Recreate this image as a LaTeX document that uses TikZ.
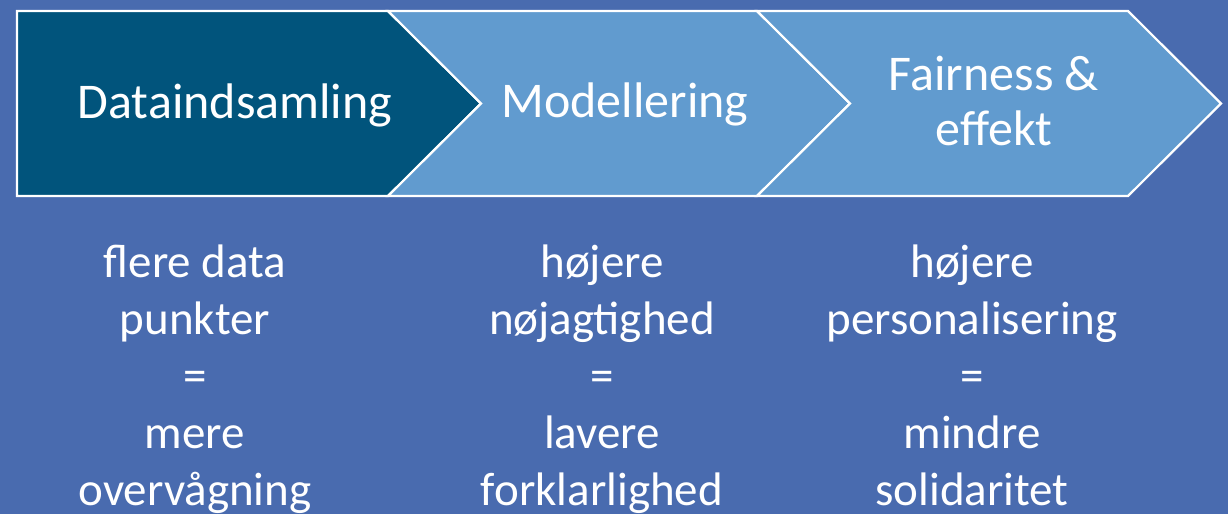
\documentclass[tikz,border=0pt]{standalone}
\usepackage{fontspec}
\setmainfont{Carlito}
\usepackage{xcolor}
\definecolor{bgblue}{RGB}{73,107,175}
\definecolor{darkstep}{RGB}{1,84,124}
\definecolor{lightstep}{RGB}{97,155,207}

\begin{document}
\begin{tikzpicture}[x=1pt, y=-1pt,
        chev/.style = {draw=white, line width=2.2pt, line join=miter},
        head/.style = {text=white, font=\fontsize{50}{55}\selectfont, align=center, inner sep=0pt, anchor=base},
        note/.style = {text=white, font=\fontsize{47}{57}\selectfont, align=center, inner sep=0pt, anchor=base}]
        \useasboundingbox (0,0) rectangle (1228,514);
        \fill[bgblue] (0,0) rectangle (1228,514);

        \filldraw[chev, fill=darkstep] (17,11) -- (388,11) -- (481,103.5) -- (388,196) -- (17,196) -- cycle;
        \filldraw[chev, fill=lightstep] (388,11) -- (757,11) -- (850,103.5) -- (757,196) -- (388,196) -- (481,103.5) -- cycle;
        \filldraw[chev, fill=lightstep] (757,11) -- (1128,11) -- (1221,103.5) -- (1128,196) -- (757,196) -- (850,103.5) -- cycle;

        \node[head] (D) at (235,118) {Dataindsamling};
        \node[head] (M) at (625,117) {Modellering};
        \node[head] (F) at (994,145) {Fairness \&\\effekt};

        \node[note] (DN) at (195,505) {flere data\\punkter\\=\\mere\\overvågning};
        \node[note] (MN) at (602,505) {højere\\nøjagtighed\\=\\lavere\\forklarlighed};
        \node[note] (FN) at (972,505) {højere\\personalisering\\=\\mindre\\solidaritet};
    \end{tikzpicture}
\end{document}
